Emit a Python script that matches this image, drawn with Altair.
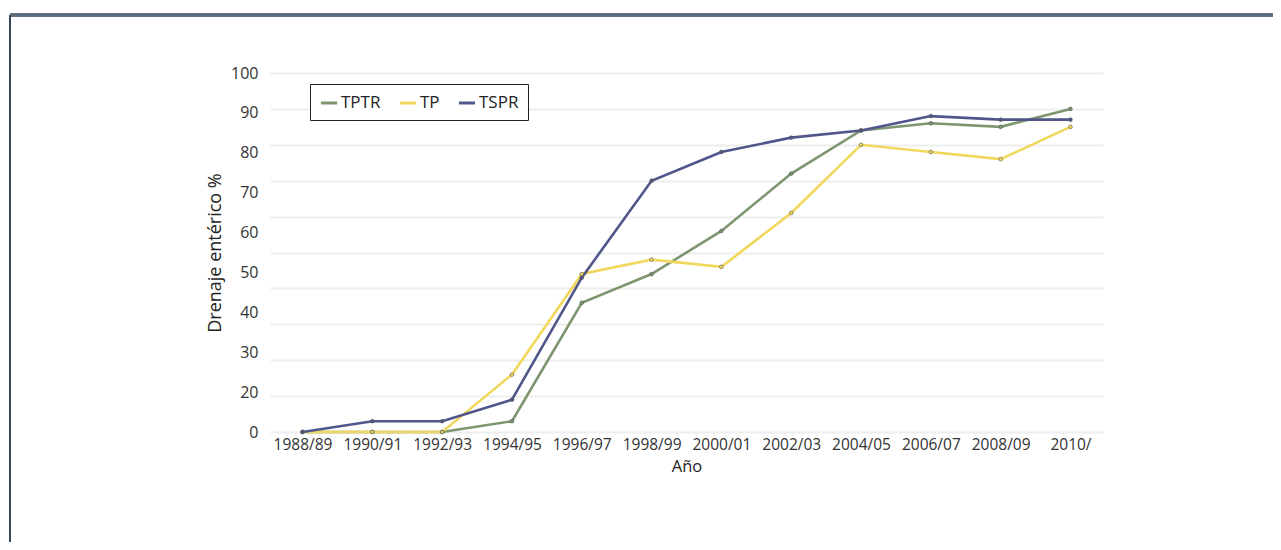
import altair as alt
import pandas as pd

seasons = ["1988/89", "1990/91", "1992/93", "1994/95", "1996/97", "1998/99",
           "2000/01", "2002/03", "2004/05", "2006/07", "2008/09", "2010/"]
series_names = ["TPTR", "TP", "TSPR"]
tptr = [0, 0, 0, 3, 36, 44, 56, 72, 84, 86, 85, 90]
tp = [0, 0, 0, 16, 44, 48, 46, 61, 80, 78, 76, 85]
tspr = [0, 3, 3, 9, 43, 70, 78, 82, 84, 88, 87, 87]
series_colors = ["#7d9670", "#f1d85c", "#50568a"]

grid_values = [0, 10, 20, 30, 40, 50, 60, 70, 80, 90, 100]
label_values = [10, 20, 30, 40, 50, 60, 70, 80, 90, 100]
label_texts = ["0", "20", "30", "40", "50", "60", "70", "80", "90", "100"]

rows = []
for name, vals in zip(series_names, [tptr, tp, tspr]):
    for s, v in zip(seasons, vals):
        rows.append({"Año": s, "serie": name, "valor": v})
df = pd.DataFrame(rows)

W, H = 833, 359
PL, PT, PR, PB = 262, 65, 170, 110

x_scale = alt.Scale(type="point", padding=0.466)
x_enc = alt.X("Año:N", sort=seasons, scale=x_scale,
              axis=alt.Axis(title="Año", labelAngle=0, domain=False, ticks=False,
                            grid=False, labelPadding=5, labelFontSize=15.5,
                            labelColor="#333333", titleFontSize=16.5,
                            titleFontWeight="normal", titleColor="#222222",
                            titleY=34, titleBaseline="middle"))

color_scale = alt.Scale(domain=series_names, range=series_colors)
color_enc = alt.Color("serie:N", sort=series_names, scale=color_scale,
                      legend=alt.Legend(title=None, orient="none", legendX=40, legendY=11,
                                        direction="horizontal", symbolType="stroke",
                                        symbolSize=260, symbolStrokeWidth=3,
                                        labelFontSize=17, labelColor="#222222",
                                        strokeColor="#222222", padding=9,
                                        columnPadding=12, labelOffset=2,
                                        fillColor="white"))

y_scale = alt.Scale(domain=[0, 100], nice=False)
y_axis = alt.Axis(values=grid_values, labels=False, ticks=False, domain=False,
                  title=None, grid=True, gridColor="#eeeeee", gridWidth=2)
lines = alt.Chart(df).mark_line(strokeWidth=2.6).encode(
    x=x_enc,
    y=alt.Y("valor:Q", scale=y_scale, axis=y_axis),
    color=color_enc,
)

points = alt.Chart(df).mark_circle(size=14, opacity=1, stroke="#555555",
                                   strokeWidth=0.6).encode(
    x=x_enc,
    y=alt.Y("valor:Q", scale=y_scale, axis=y_axis),
    color=alt.Color("serie:N", sort=series_names, scale=color_scale, legend=None),
)

data_layer = alt.layer(lines, points)

label_expr = "{" + ",".join(f"'{v}':'{t}'" for v, t in zip(label_values, label_texts)) + "}[datum.value]"
label_df = pd.DataFrame({"v": label_values})
y_labels = alt.Chart(label_df).mark_point(opacity=0).encode(
    x=alt.value(0),
    y=alt.Y("v:Q", scale=alt.Scale(domain=[10, 100], nice=False),
            axis=alt.Axis(orient="left", values=label_values, labelExpr=label_expr,
                          grid=False, ticks=False, domain=False, labelPadding=12,
                          labelFontSize=16, labelColor="#333333",
                          title="Drenaje entérico %", titleFontSize=18,
                          titleFontWeight="normal", titleColor="#222222",
                          titleX=-55, titleY=H / 2, titleAngle=-90,
                          titleAlign="center", titleBaseline="middle")),
)

frame_top = alt.Chart(label_df).mark_rule(color="#5b6d7d", strokeWidth=2.5).encode(
    x=alt.value(-260), x2=alt.value(W + PR), y=alt.value(-58))
frame_left = alt.Chart(label_df).mark_rule(color="#34475a", strokeWidth=2).encode(
    x=alt.value(-260), y=alt.value(-58), y2=alt.value(H + PB))

chart = alt.layer(data_layer, y_labels, frame_top, frame_left).resolve_scale(
    y="independent"
).properties(
    width=W, height=H,
    autosize=alt.AutoSizeParams(type="none"),
    padding={"left": PL, "top": PT, "right": PR, "bottom": PB},
).configure(font="Open Sans", view=alt.ViewConfig(stroke=None))

chart.save("out.html", embed_options={"renderer": "svg", "actions": False})
